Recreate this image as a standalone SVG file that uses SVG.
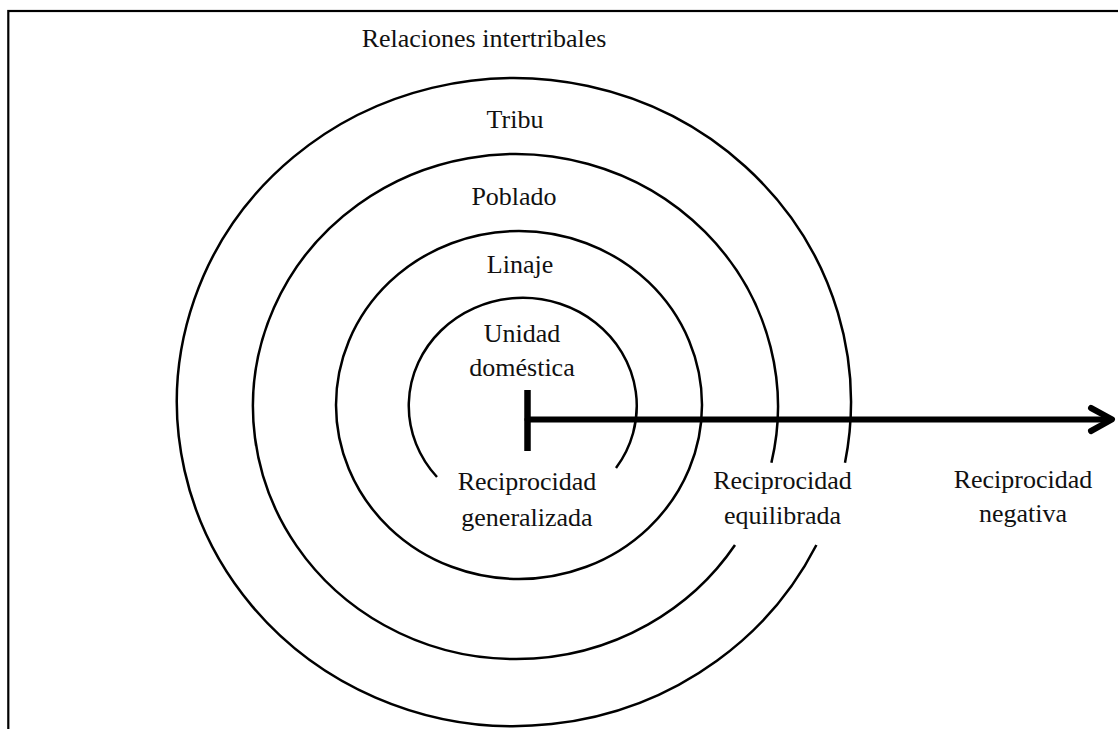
<svg xmlns="http://www.w3.org/2000/svg" width="1118" height="729" viewBox="0 0 1118 729">
  <style>
    .ring { fill: none; stroke: #000; stroke-width: 2.5; }
    .lbl { font-family: "Liberation Serif", "Times New Roman", serif; font-size: 26px; fill: #111; text-anchor: middle; }
    .frame { fill: none; stroke: #000; stroke-width: 2.2; }
    .conn { fill: none; stroke: #000; stroke-width: 6; stroke-linecap: round; stroke-linejoin: round; }
  </style>
  <rect width="1118" height="729" fill="#fff"/>
  <rect class="frame" x="8.3" y="11" width="1300" height="900"/>

  <g id="relaciones-intertribales">
    <text class="lbl" x="484" y="47">Relaciones intertribales</text>
  </g>

  <g id="tribu">
    <path class="ring" d="M 816.4 545 A 337 324 0 1 1 845 462.7"/>
    <text class="lbl" x="515" y="128">Tribu</text>
  </g>

  <g id="poblado">
    <path class="ring" d="M 735 545 A 262.5 252.5 0 1 1 771.4 462.7"/>
    <text class="lbl" x="514" y="205">Poblado</text>
  </g>

  <g id="linaje">
    <ellipse class="ring" cx="519" cy="405" rx="183" ry="174"/>
    <text class="lbl" x="520" y="273">Linaje</text>
  </g>

  <g id="unidad-domestica">
    <path class="ring" d="M 437 477 A 114 108 0 1 1 616 468"/>
    <text class="lbl" x="522" y="342">Unidad</text>
    <text class="lbl" x="522" y="376">doméstica</text>
  </g>

  <g id="reciprocidad-generalizada">
    <text class="lbl" x="527" y="490">Reciprocidad</text>
    <text class="lbl" x="527" y="526">generalizada</text>
  </g>

  <g id="reciprocidad-equilibrada">
    <text class="lbl" x="782.5" y="489">Reciprocidad</text>
    <text class="lbl" x="782.5" y="524">equilibrada</text>
  </g>

  <g id="reciprocidad-negativa">
    <text class="lbl" x="1023" y="488">Reciprocidad</text>
    <text class="lbl" x="1023" y="522">negativa</text>
  </g>

  <g id="connectors">
    <line x1="527.5" y1="390" x2="527.5" y2="451" stroke="#000" stroke-width="6.5"/>
    <line class="conn" x1="527.5" y1="419.4" x2="1110" y2="419.4"/>
    <polyline class="conn" points="1091,408 1112,419.4 1091,431" stroke-width="5.5"/>
  </g>
</svg>
